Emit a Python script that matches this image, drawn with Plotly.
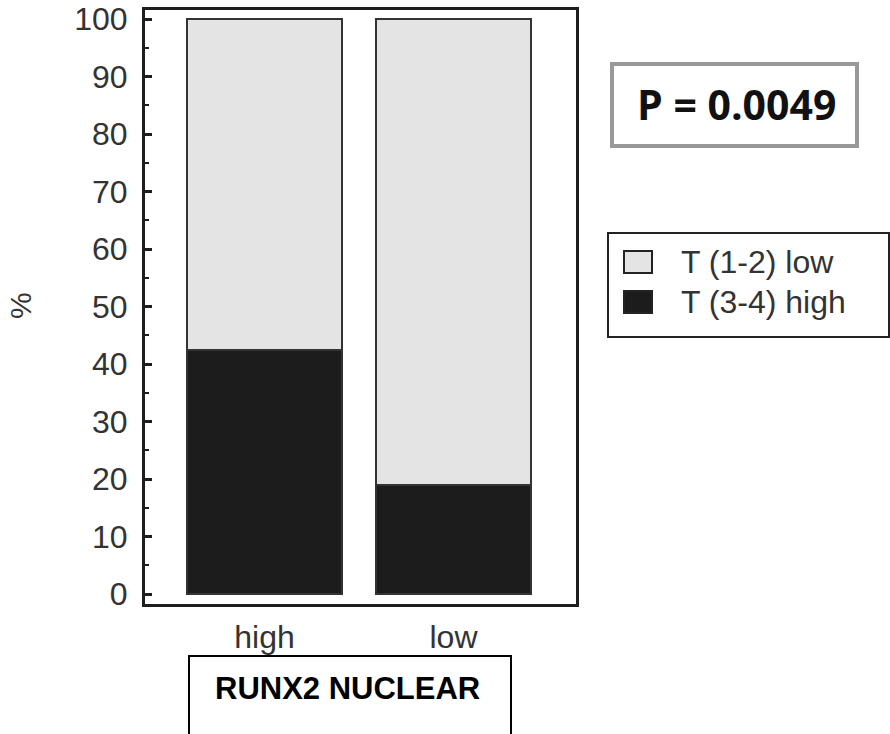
import plotly.graph_objects as go

categories = ["high", "low"]
series_names = ["T (1-2) low", "T (3-4) high"]
t34_high = [42.5, 19.0]
t12_low = [100 - v for v in t34_high]
y_ticks = [0, 10, 20, 30, 40, 50, 60, 70, 80, 90, 100]
p_text = "P = 0.0049"
x_title = "RUNX2 NUCLEAR"
y_title = "%"

W, H = 890, 734
L, R, T, B = 145, 576, 10, 604
light, dark, edge = "#e4e4e4", "#1c1c1c", "#333333"

def px(x):
    return (x - L) / (R - L)

def py(y):
    return (B - y) / (B - T)

fig = go.Figure()
fig.add_trace(go.Bar(x=categories, y=t34_high, name=series_names[1], width=0.82,
                     marker=dict(color=dark, line=dict(color=edge, width=2)), showlegend=False))
fig.add_trace(go.Bar(x=categories, y=t12_low, name=series_names[0], width=0.82,
                     marker=dict(color=light, line=dict(color=edge, width=2)), showlegend=False))

font = "Liberation Sans, Arial, sans-serif"
shapes = []
annotations = []

# Legend box
shapes.append(dict(type="rect", xref="paper", yref="paper", x0=px(608), x1=px(889), y0=py(337), y1=py(233),
                   line=dict(color="#222", width=2), fillcolor="white", layer="above"))
legend_rows = [(series_names[0], light, 251, 273), (series_names[1], dark, 291, 313)]
for name, col, y0, y1 in legend_rows:
    shapes.append(dict(type="rect", xref="paper", yref="paper", x0=px(624), x1=px(652), y0=py(y1), y1=py(y0),
                       line=dict(color="#222", width=2), fillcolor=col, layer="above"))
    annotations.append(dict(text=name, xref="paper", yref="paper", x=px(679), y=py((y0 + y1) / 2),
                            xanchor="left", yanchor="middle", showarrow=False,
                            font=dict(family=font, size=32, color="#333")))

# P box
shapes.append(dict(type="rect", xref="paper", yref="paper", x0=px(612), x1=px(857), y0=py(146), y1=py(64),
                   line=dict(color="#999999", width=4), fillcolor="white", layer="above"))
annotations.append(dict(text="<b>" + p_text + "</b>", xref="paper", yref="paper", x=px(736), y=py(104),
                        xanchor="center", yanchor="middle", showarrow=False,
                        font=dict(family="Open Sans, sans-serif", size=41, color="#111")))

# x title box
shapes.append(dict(type="rect", xref="paper", yref="paper", x0=px(189), x1=px(511), y0=py(745), y1=py(656),
                   line=dict(color="black", width=2), fillcolor="white", layer="above"))
annotations.append(dict(text="<b>" + x_title + "</b>", xref="paper", yref="paper", x=px(347), y=py(688),
                        xanchor="center", yanchor="middle", showarrow=False,
                        font=dict(family=font, size=31, color="black")))

# y title
annotations.append(dict(text=y_title, xref="paper", yref="paper", x=px(20), y=py(306), textangle=-90,
                        xanchor="center", yanchor="middle", showarrow=False,
                        font=dict(family=font, size=30, color="#333")))

fig.update_layout(
    width=W, height=H, barmode="stack",
    margin=dict(l=L, r=W - R, t=T, b=H - B, pad=0, autoexpand=False),
    plot_bgcolor="white", paper_bgcolor="white",
    shapes=shapes, annotations=annotations, showlegend=False,
    xaxis=dict(range=[-0.632, 1.648], showline=True, mirror=True, linecolor="#1e1e1e", linewidth=3,
               ticks="", showgrid=False, zeroline=False, tickfont=dict(family=font, size=32, color="#333"),
               ticklabelstandoff=3, automargin=False),
    yaxis=dict(range=[-1.74, 101.57], showline=True, mirror=True, linecolor="#1e1e1e", linewidth=3,
               tickvals=y_ticks, ticks="inside", ticklen=7, tickwidth=3, tickcolor="#1e1e1e",
               minor=dict(dtick=5, ticks="inside", ticklen=4, tickwidth=2, tickcolor="#1e1e1e"),
               showgrid=False, zeroline=False, tickfont=dict(family=font, size=32, color="#333"),
               ticklabelstandoff=8, automargin=False),
)

fig.write_html("out.html")
